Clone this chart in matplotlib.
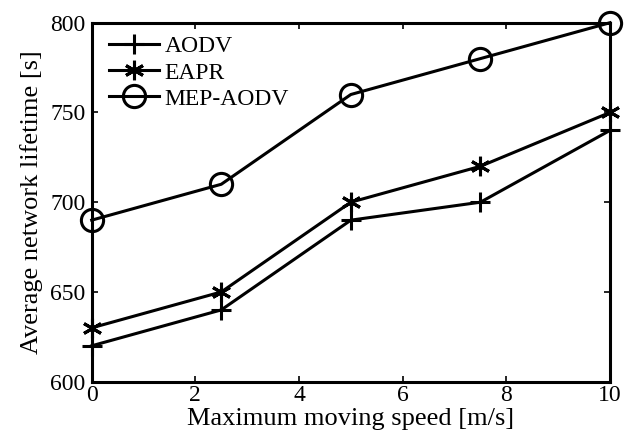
import matplotlib.pyplot as plt

speed = [0, 2.5, 5, 7.5, 10]
aodv = [620, 640, 690, 700, 740]
eapr = [630, 650, 700, 720, 750]
mep_aodv = [690, 710, 760, 780, 800]

plt.rcParams['font.family'] = ['Liberation Serif', 'DejaVu Serif']
plt.rcParams['font.size'] = 17

fig = plt.figure(figsize=(6.31, 4.36), dpi=100)
ax = fig.add_axes([91.7 / 631, (436 - 381.7) / 436, 518.3 / 631, 359 / 436])

ax.plot(speed, aodv, color='black', lw=2.2, marker='+', ms=15, mew=2.2, label='AODV', clip_on=False)
ax.plot(speed, eapr, color='black', lw=2.2, marker=(6, 2, 0), ms=14, mew=2.2, label='EAPR', clip_on=False)
ax.plot(speed, mep_aodv, color='black', lw=2.2, marker='o', ms=16, mew=2.2, mfc='none',
        label='MEP-AODV', clip_on=False)

ax.set_xlim(0, 10)
ax.set_ylim(600, 800)
ax.set_xticks([0, 2, 4, 6, 8, 10])
ax.set_yticks([600, 650, 700, 750, 800])
ax.tick_params(direction='in', top=True, right=True, length=4, width=1.2, labelsize=17)
ax.tick_params(axis='x', pad=2.4)
ax.tick_params(axis='y', pad=4.5)
for s in ax.spines.values():
    s.set_linewidth(2.2)

ax.set_xlabel('Maximum moving speed [m/s]', fontsize=19, labelpad=1.5)
ax.set_ylabel('Average network lifetime [s]', fontsize=19, labelpad=5)

ax.legend(loc='upper left', bbox_to_anchor=(0.015, 0.99), frameon=False, handlelength=2.1,
          handletextpad=0.26, borderaxespad=0, borderpad=0.4, labelspacing=0.2, fontsize=17)

fig.savefig('out.png', dpi=100)
